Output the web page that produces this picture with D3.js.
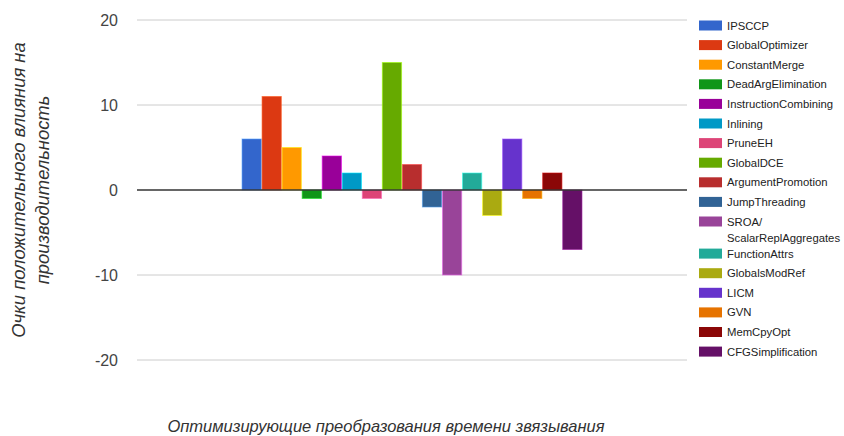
<!DOCTYPE html>
<html>
<head>
<meta charset="utf-8">
<script src="https://cdn.jsdelivr.net/npm/d3@7/dist/d3.min.js"></script>
<style>
  html, body { margin: 0; padding: 0; background: #fff; }
  svg { display: block; }
</style>
</head>
<body>
<svg id="chart" width="844" height="436"></svg>
<script>
// Link-time optimization passes and their performance impact scores
const passes = [
  "IPSCCP", "GlobalOptimizer", "ConstantMerge", "DeadArgElimination",
  "InstructionCombining", "Inlining", "PruneEH", "GlobalDCE",
  "ArgumentPromotion", "JumpThreading", "SROA/ScalarReplAggregates",
  "FunctionAttrs", "GlobalsModRef", "LICM", "GVN", "MemCpyOpt", "CFGSimplification"
];
const scores = [6, 11, 5, -1, 4, 2, -1, 15, 3, -2, -10, 2, -3, 6, -1, 2, -7];
const colors = [
  "#3366cc", "#dc3912", "#ff9900", "#109618", "#990099", "#0099c6",
  "#dd4477", "#66aa00", "#b82e2e", "#316395", "#994499", "#22aa99",
  "#aaaa11", "#6633cc", "#e67300", "#8b0707", "#651067"
];
const yTicks = [20, 10, 0, -10, -20];
const yTitleLines = ["Очки положительного влияния на", "производительность"];
const xTitle = "Оптимизирующие преобразования времени звязывания";

const svg = d3.select("#chart");
const plot = { left: 137, right: 687, top: 20, bottom: 360 };

const y = d3.scaleLinear().domain([-20, 20]).range([plot.bottom, plot.top]);
const group = d3.scaleBand().domain(["all"]).range([plot.left, plot.right])
  .paddingInner(0).paddingOuter(0.309);
const xs = d3.scaleBand().domain(passes).range([0, group.bandwidth()]).paddingInner(0.04);

// gridlines
svg.append("g").selectAll("line").data(yTicks.filter(t => t !== 0)).join("line")
  .attr("x1", plot.left).attr("x2", plot.right)
  .attr("y1", d => y(d)).attr("y2", d => y(d))
  .attr("stroke", "#cccccc").attr("stroke-width", 1);

// y axis labels
const yAxis = d3.axisLeft(y).tickValues(yTicks).tickSize(0).tickPadding(0)
  .tickFormat(d3.format("d"));
const yg = svg.append("g").attr("transform", `translate(118,0)`).call(yAxis);
yg.select(".domain").remove();
yg.selectAll("text")
  .attr("font-family", "Arial, 'Liberation Sans', sans-serif")
  .attr("font-size", 16).attr("fill", "#444").attr("dy", "0.36em")
  .text(d => d < 0 ? "-" + Math.abs(d) : d);

// bars
const gx = group("all");
svg.append("g").selectAll("rect").data(passes).join("rect")
  .attr("x", (d) => gx + xs(d))
  .attr("width", xs.bandwidth())
  .attr("y", (d, i) => y(Math.max(0, scores[i])))
  .attr("height", (d, i) => Math.abs(y(scores[i]) - y(0)))
  .attr("fill", (d, i) => colors[i])
  .attr("stroke", (d, i) => d3.color(colors[i]).brighter(1.2))
  .attr("stroke-opacity", 0.6)
  .attr("stroke-width", 1);

// zero baseline
svg.append("line")
  .attr("x1", plot.left).attr("x2", plot.right)
  .attr("y1", y(0)).attr("y2", y(0))
  .attr("stroke", "#333").attr("stroke-width", 1.5);

// legend
const legendLines = p => p === "SROA/ScalarReplAggregates" ? ["SROA/", "ScalarReplAggregates"] : [p];
const lg = svg.append("g").attr("font-family", "Arial, 'Liberation Sans', sans-serif")
  .attr("font-size", 11.3).attr("fill", "#222");
let ly = 25.5;
passes.forEach((p, i) => {
  const lines = legendLines(p);
  lg.append("rect").attr("x", 699).attr("y", ly - 5).attr("width", 23).attr("height", 10)
    .attr("fill", colors[i]);
  lines.forEach((t, k) => {
    lg.append("text").attr("x", 727).attr("y", ly + k * 16).attr("dy", "0.36em").text(t);
  });
  ly += 19.6 + (lines.length - 1) * 12.5;
});

// axis titles
const yt = svg.append("text")
  .attr("transform", "translate(0,190) rotate(-90)")
  .attr("font-family", "Arial, 'Liberation Sans', sans-serif")
  .attr("font-style", "italic").attr("font-size", 18.4).attr("fill", "#333")
  .attr("text-anchor", "middle");
yTitleLines.forEach((t, k) => {
  yt.append("tspan").attr("x", 0).attr("y", 25 + k * 24).text(t);
});

svg.append("text")
  .attr("x", 386).attr("y", 432)
  .attr("font-family", "Arial, 'Liberation Sans', sans-serif")
  .attr("font-style", "italic").attr("font-size", 16.5).attr("fill", "#333")
  .attr("text-anchor", "middle").text(xTitle);
</script>
</body>
</html>
